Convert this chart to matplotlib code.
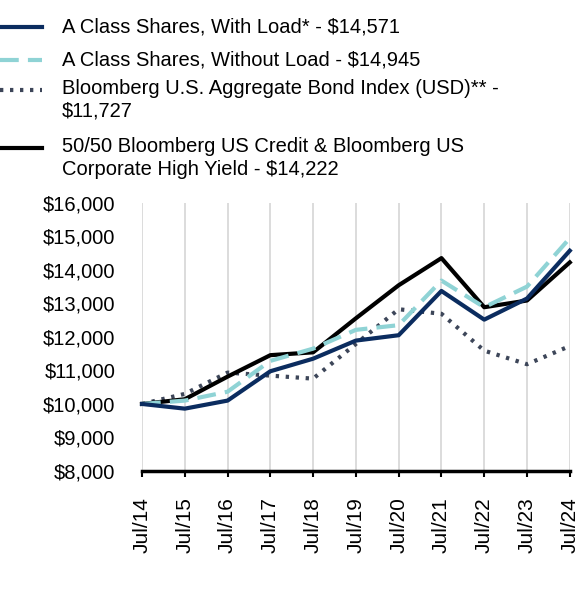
import matplotlib
matplotlib.use('Agg')
import matplotlib.pyplot as plt
from matplotlib.lines import Line2D

plt.rcParams.update({
    'font.family': ['Liberation Sans', 'DejaVu Sans'],
    'font.size': 14.5,
})

years = ['Jul/14', 'Jul/15', 'Jul/16', 'Jul/17', 'Jul/18', 'Jul/19',
         'Jul/20', 'Jul/21', 'Jul/22', 'Jul/23', 'Jul/24']

with_load = [10000, 9860, 10100, 10975, 11350, 11890, 12050, 13370, 12515, 13145, 14571]
without_load = [10000, 10100, 10365, 11285, 11650, 12210, 12350, 13680, 12885, 13500, 14945]
agg_index = [10000, 10300, 10935, 10845, 10755, 11790, 12825, 12690, 11590, 11185, 11727]
credit_hy = [10000, 10140, 10815, 11455, 11540, 12555, 13540, 14350, 12885, 13085, 14222]

labels = [
    'A Class Shares, With Load* - $14,571',
    'A Class Shares, Without Load - $14,945',
    'Bloomberg U.S. Aggregate Bond Index (USD)** -\n$11,727',
    '50/50 Bloomberg US Credit & Bloomberg US\nCorporate High Yield - $14,222',
]

NAVY = '#0b2c5f'
CYAN = '#8fd3d5'
SLATE = '#3d4659'
BLACK = '#000000'
LW = 3.0
DASH = (0, (4.5, 2.2))
DOT = (0, (0.8, 1.6))

fig = plt.figure(figsize=(5.88, 6.0), dpi=100)
ax = fig.add_axes([0.2415, 0.215, 0.7275, 0.447])

x = list(range(len(years)))
ax.plot(x, agg_index, color=SLATE, lw=LW, linestyle=DOT, clip_on=False)
ax.plot(x, credit_hy, color=BLACK, lw=LW, clip_on=False)
ax.plot(x, without_load, color=CYAN, lw=LW, linestyle=DASH, clip_on=False)
ax.plot(x, with_load, color=NAVY, lw=LW, clip_on=False)

ax.set_xlim(0, len(years) - 1)
ax.set_ylim(8000, 16000)
ax.set_yticks(range(8000, 16001, 1000))
ax.set_yticklabels([f'${v:,}' for v in range(8000, 16001, 1000)])
ax.set_xticks(x)
ax.set_xticklabels(years, rotation=90, fontsize=15)
ax.grid(axis='x', color='#d9d9d9', lw=1.3)
ax.set_axisbelow(True)
for s in ['top', 'right', 'left']:
    ax.spines[s].set_visible(False)
ax.spines['bottom'].set_linewidth(2.5)
ax.spines['bottom'].set_zorder(5)
ax.tick_params(axis='y', length=0, pad=19)
ax.tick_params(axis='x', length=4, width=1.5, pad=15)

# hand-drawn legend above the plot (pixel rows of the first text line)
row_px = [27, 60, 90, 148]
styles = [
    dict(color=NAVY, lw=LW),
    dict(color=CYAN, lw=LW, linestyle=DASH),
    dict(color=SLATE, lw=LW, linestyle=DOT),
    dict(color=BLACK, lw=LW),
]
for ypx, st, lab in zip(row_px, styles, labels):
    yf = 1 - ypx / 600
    fig.add_artist(Line2D([0, 42 / 588], [yf, yf], transform=fig.transFigure, **st))
    if '\n' in lab:
        fig.text(62 / 588, yf + 11 / 600, lab, ha='left', va='top',
                 fontsize=14.5, linespacing=1.25)
    else:
        fig.text(62 / 588, yf, lab, ha='left', va='center', fontsize=14.5)

fig.savefig('out.png', dpi=100)
